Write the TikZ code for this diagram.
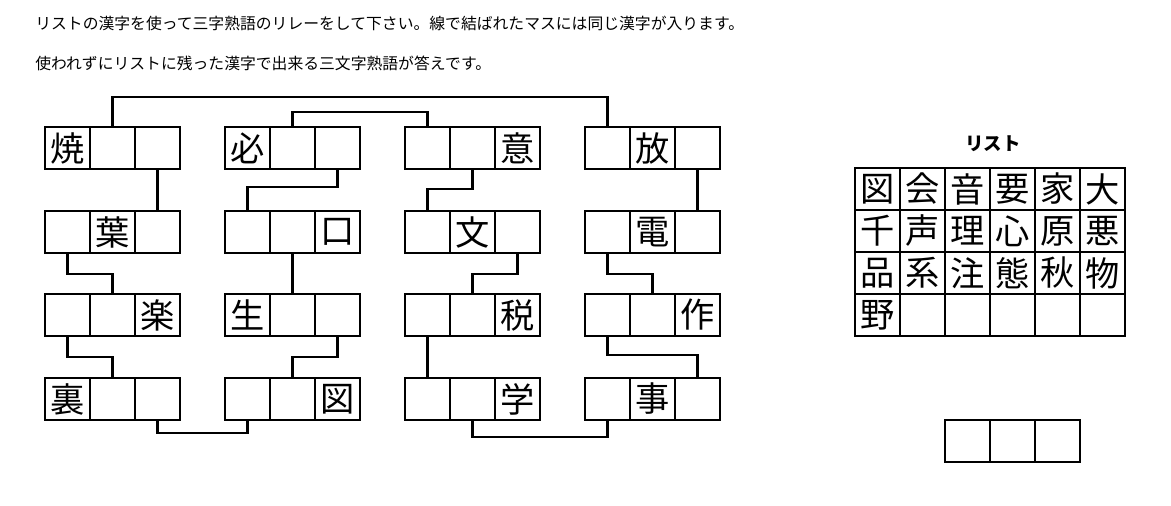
\documentclass[tikz,border=0pt]{standalone}
\usepackage{fontspec}
\setmainfont{Noto Sans CJK JP}
\usepackage{tikz}
\usetikzlibrary{positioning}

\begin{document}
\begin{tikzpicture}[
  x=0.02cm, y=-0.02cm,
  cell/.style={
    draw, line width=0.6pt, minimum width=0.9cm,
    minimum height=0.84cm, inner sep=0pt, outer sep=0pt,
    font=\fontsize{19.5}{19.5}\selectfont,
  },
  link/.style={line width=1.2pt},
  note/.style={anchor=west, inner sep=0pt, font=\fontsize{9}{11}\selectfont},
]
\useasboundingbox (0,0) rectangle (1171,505);
\node[note] (line1) at (35,23)
  {リストの漢字を使って三字熟語のリレーをして下さい。線で結ばれたマスには同じ漢字が入ります。};
\node[note] (line2) at (35,63)
  {使われずにリストに残った漢字で出来る三文字熟語が答えです。};
% puzzle rows, three cells each
\foreach \n/\x/\y/\a/\b/\c in {
  g1r1/67.5/148/焼/{}/{}, g1r2/67.5/232/{}/葉/{},
  g1r3/67.5/315/{}/{}/楽, g1r4/67.5/399/裏/{}/{},
  g2r1/247.5/148/必/{}/{}, g2r2/247.5/232/{}/{}/口,
  g2r3/247.5/315/生/{}/{}, g2r4/247.5/399/{}/{}/図,
  g3r1/427.5/148/{}/{}/意, g3r2/427.5/232/{}/文/{},
  g3r3/427.5/315/{}/{}/税, g3r4/427.5/399/{}/{}/学,
  g4r1/607.5/148/{}/放/{}, g4r2/607.5/232/{}/電/{},
  g4r3/607.5/315/{}/{}/作, g4r4/607.5/399/{}/事/{}} {
  \node[cell] (\n-1) at (\x,\y) {\a};
  \node[cell, right=0pt of \n-1] (\n-2) {\b};
  \node[cell, right=0pt of \n-2] (\n-3) {\c};
}
\draw[link] (g1r1-2.north) -- ++(0,-30) -| (g4r1-1.north);
\draw[link] (g2r1-2.north) -- ++(0,-15) -| (g3r1-1.north);
\draw[link] (g1r1-3.south) -- (g1r2-3.north);
\draw[link] (g2r1-3.south) -- ++(0,18) -| (g2r2-1.north);
\draw[link] (g3r1-2.south) -- ++(0,20) -| (g3r2-1.north);
\draw[link] (g4r1-3.south) -- (g4r2-3.north);
\draw[link] (g1r2-1.south) -- ++(0,21) -| (g1r3-2.north);
\draw[link] (g2r2-2.south) -- (g2r3-2.north);
\draw[link] (g3r2-3.south) -- ++(0,21) -| (g3r3-2.north);
\draw[link] (g4r2-1.south) -- ++(0,21) -| (g4r3-2.north);
\draw[link] (g1r3-1.south) -- ++(0,21) -| (g1r4-2.north);
\draw[link] (g2r3-3.south) -- ++(0,21) -| (g2r4-2.north);
\draw[link] (g3r3-1.south) -- (g3r4-1.north);
\draw[link] (g4r3-1.south) -- ++(0,19) -| (g4r4-3.north);
\draw[link] (g1r4-3.south) -- ++(0,13) -| (g2r4-1.south);
\draw[link] (g3r4-2.south) -- ++(0,17) -| (g4r4-1.south);
% list of kanji
\node[font=\bfseries\fontsize{10.5}{12}\selectfont] (listtitle) at (993,144) {リスト};
\foreach \k [count=\i from 0] in
  {図,会,音,要,家,大,千,声,理,心,原,悪,品,系,注,態,秋,物,野,{},{},{},{},{}} {
  \pgfmathtruncatemacro{\col}{mod(\i,6)}
  \pgfmathtruncatemacro{\row}{\i/6}
  \node[cell] (l\i) at (877.5+45*\col, 189+42*\row) {\k};
}
% answer
\node[cell] (ans1) at (967.5,441) {};
\node[cell, right=0pt of ans1] (ans2) {};
\node[cell, right=0pt of ans2] (ans3) {};
\end{tikzpicture}
\end{document}
